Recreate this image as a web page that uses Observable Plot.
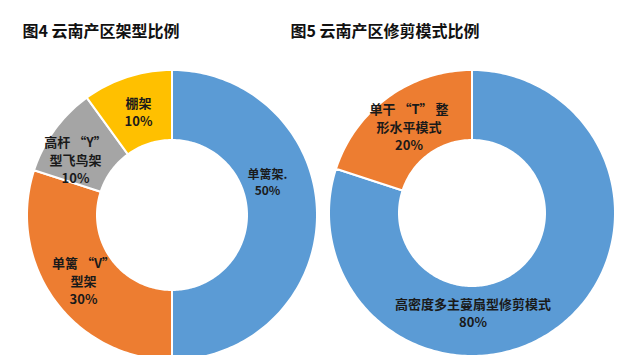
<!DOCTYPE html>
<html><head><meta charset="utf-8">
<script src="https://cdn.jsdelivr.net/npm/d3@7"></script>
<script src="https://cdn.jsdelivr.net/npm/@observablehq/plot@0.6"></script>
<style>body{margin:0;background:#fff;}</style>
</head><body><div id="chart"></div>
<script>
// ---- data ----
const titles = ["图4 云南产区架型比例", "图5 云南产区修剪模式比例"];
const frameCategories = ["单篱架", "单篱“V”型架", "高杆“Y”型飞鸟架", "棚架"];
const frameShares = [50, 30, 10, 10];
const frameLabels = ["单篱架.", "单篱 “V”\n型架", "高杆 “Y”\n型飞鸟架", "棚架"];
const pruneCategories = ["高密度多主蔓扇型修剪模式", "单干“T”整形水平模式"];
const pruneShares = [80, 20];
const pruneLabels = ["高密度多主蔓扇型修剪模式", "单干 “T” 整\n形水平模式"];

// ---- styles / layout ----
const frameColors = ["#5B9BD5", "#ED7D31", "#A5A5A5", "#FFC000"];
const pruneColors = ["#5B9BD5", "#ED7D31"];
const donuts = [
  {cx: 172, cy: 215, r0: 75, r1: 145, titleX: 22},
  {cx: 472, cy: 213, r0: 73, r1: 143, titleX: 290}
];
const labelShift = {
  "单篱架": [-15, -34],
  "高杆“Y”型飞鸟架": [-8, 8],
  "高密度多主蔓扇型修剪模式": [-63, 11]
};
const labelSize = {"单篱架": 12};

const charts = [
  {cats: frameCategories, vals: frameShares, labels: frameLabels, colors: frameColors, geo: donuts[0]},
  {cats: pruneCategories, vals: pruneShares, labels: pruneLabels, colors: pruneColors, geo: donuts[1]}
];

const marks = [];
const labelData = [];
charts.forEach(ch => {
  const total = d3.sum(ch.vals);
  const {cx, cy, r0, r1} = ch.geo;
  let acc = 0;
  ch.cats.forEach((c, i) => {
    const a0 = acc / total * 2 * Math.PI;
    acc += ch.vals[i];
    const a1 = acc / total * 2 * Math.PI;
    const n = Math.max(8, Math.ceil((a1 - a0) / 0.02));
    const pts = d3.range(n + 1).map(k => {
      const a = a0 + (a1 - a0) * k / n;
      return {
        ox: cx + r1 * Math.sin(a), oy: cy - r1 * Math.cos(a),
        ix: cx + r0 * Math.sin(a), iy: cy - r0 * Math.cos(a)
      };
    });
    marks.push(Plot.area(pts, {x1: "ox", y1: "oy", x2: "ix", y2: "iy", fill: ch.colors[i], stroke: "white", strokeWidth: 2}));
    const am = (a0 + a1) / 2, rm = (r0 + r1) / 2;
    const sh = labelShift[c] || [0, 0];
    labelData.push({
      x: cx + rm * Math.sin(am) + sh[0],
      y: cy - rm * Math.cos(am) + sh[1],
      text: ch.labels[i] + "\n" + ch.vals[i] + "%",
      size: labelSize[c] || 13
    });
  });
});

const titleData = titles.map((t, i) => ({x: donuts[i].titleX, y: 31, text: t}));

[12, 13].forEach(s => {
  marks.push(Plot.text(labelData.filter(d => d.size === s), {
    x: "x", y: "y", text: "text", fontSize: s, fontWeight: "bold", fill: "#1a1a1a", lineHeight: 1.38
  }));
});
marks.push(Plot.text(titleData, {
  x: "x", y: "y", text: "text", textAnchor: "start", fontSize: 16, fontWeight: "bold", fill: "#111"
}));

const plot = Plot.plot({
  width: 640, height: 355,
  margin: 0,
  x: {domain: [0, 640], range: [0, 640], axis: null},
  y: {domain: [0, 355], range: [0, 355], axis: null},
  style: {fontFamily: '"Noto Sans CJK SC", "Noto Sans", sans-serif', background: "white"},
  marks
});
document.getElementById("chart").appendChild(plot);
</script>
</body></html>
